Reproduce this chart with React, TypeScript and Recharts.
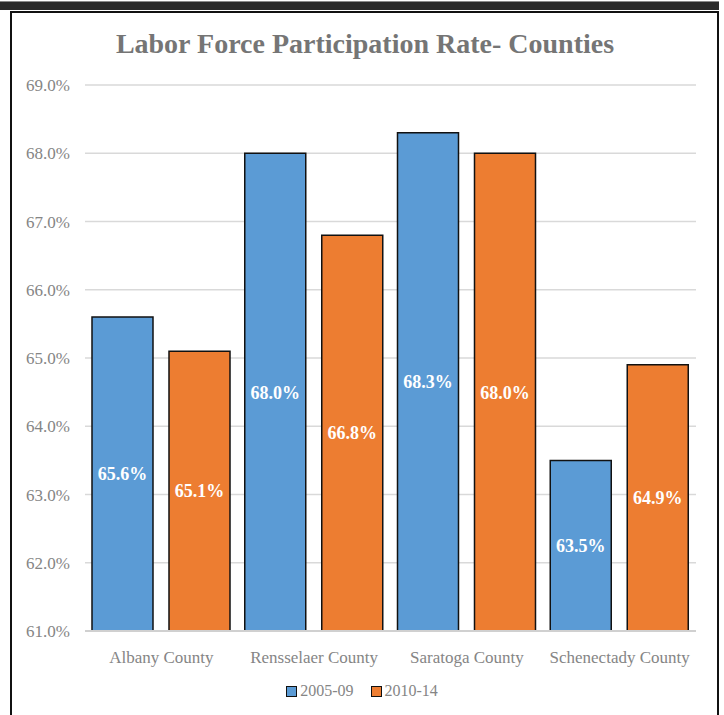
import React from "react";
import { BarChart, Bar, XAxis, YAxis, CartesianGrid, LabelList, Legend } from "recharts";

const categories = ["Albany County", "Rensselaer County", "Saratoga County", "Schenectady County"];
const series2005 = [65.6, 68.0, 68.3, 63.5];
const series2010 = [65.1, 66.8, 68.0, 64.9];
const yTicks = [61, 62, 63, 64, 65, 66, 67, 68, 69];
const seriesNames = ["2005-09", "2010-14"];
const seriesColors = ["#5B9BD5", "#ED7D31"];

const data = categories.map((c, i) => ({ name: c, a: series2005[i], b: series2010[i] }));

const FONT = "'Liberation Serif', 'Times New Roman', serif";
const pct = (v: any) => Number(v).toFixed(1) + "%";

const LegendContent = () => (
  <div style={{ display: "flex", justifyContent: "center", alignItems: "center", fontFamily: FONT, fontSize: 16, color: "#858585" }}>
    {seriesNames.map((n, i) => (
      <div key={n} style={{ display: "flex", alignItems: "center", marginRight: i === 0 ? 17 : 0 }}>
        <span style={{ display: "inline-block", width: 9, height: 9, background: seriesColors[i], border: "1.5px solid #111", marginRight: 3 }} />
        <span>{n}</span>
      </div>
    ))}
  </div>
);

export default function App() {
  return (
    <div style={{ position: "absolute", left: 0, top: 0, width: 724, height: 715, background: "#fff", fontFamily: FONT, overflow: "hidden" }}>
      <div style={{ position: "absolute", left: 0, top: 1, width: 719, height: 8, background: "#2b2b2b", borderTop: "1px solid #8a8a8a" }} />
      <div style={{ position: "absolute", left: 10, top: 11, width: 705, height: 720, border: "2px solid #111", borderBottom: "none" }} />
      <div style={{ position: "absolute", left: 0, top: 26, width: 730, textAlign: "center", fontSize: 28, fontWeight: "bold", color: "#757575", lineHeight: "36px" }}>
        Labor Force Participation Rate- Counties
      </div>
      <div style={{ position: "absolute", left: 0, top: 0 }}>
        <BarChart width={724} height={715} data={data} margin={{ top: 85, right: 28, bottom: 54, left: 0 }} barGap={16} barCategoryGap={7}>
          <CartesianGrid vertical={false} stroke="#d9d9d9" strokeWidth={1.5} />
          <XAxis dataKey="name" tickLine={false} axisLine={{ stroke: "#d0d0d0", strokeWidth: 2 }} tickSize={0} tickMargin={20} tick={{ fill: "#858585", fontSize: 17, fontFamily: FONT }} interval={0} />
          <YAxis domain={[61, 69]} ticks={yTicks} tickFormatter={pct} width={85} tickLine={false} axisLine={false} tickSize={0} tickMargin={15} tick={{ fill: "#858585", fontSize: 17, fontFamily: FONT }} />
          <Legend layout="horizontal" verticalAlign="middle" align="center" wrapperStyle={{ top: 682, left: 0, width: 724 }} content={<LegendContent />} />
          <Bar dataKey="a" name={seriesNames[0]} fill={seriesColors[0]} stroke="#111" strokeWidth={1.5} isAnimationActive={false}>
            <LabelList dataKey="a" position="center" formatter={pct} fill="#fff" fontSize={18} fontWeight="bold" fontFamily={FONT} />
          </Bar>
          <Bar dataKey="b" name={seriesNames[1]} fill={seriesColors[1]} stroke="#111" strokeWidth={1.5} isAnimationActive={false}>
            <LabelList dataKey="b" position="center" formatter={pct} fill="#fff" fontSize={18} fontWeight="bold" fontFamily={FONT} />
          </Bar>
        </BarChart>
      </div>
    </div>
  );
}
